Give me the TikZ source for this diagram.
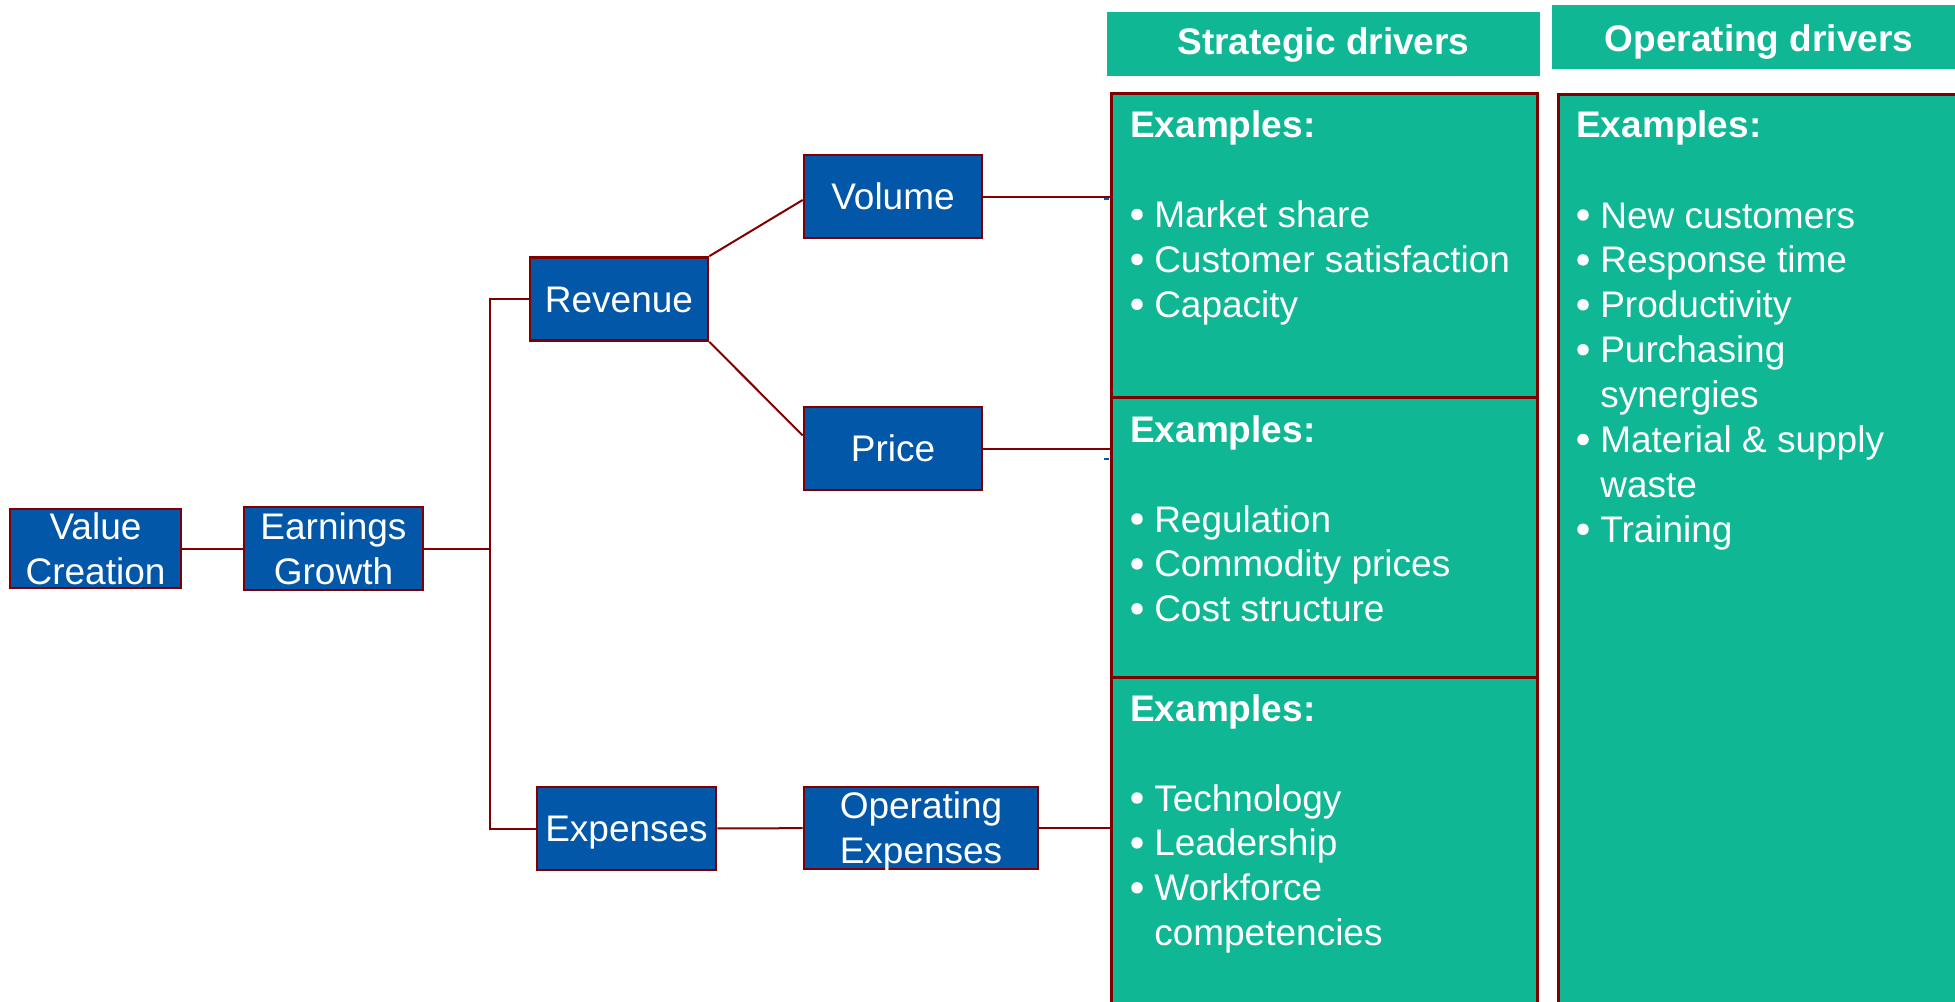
\documentclass[tikz,border=0pt]{standalone}
\usepackage{fontspec}
\setmainfont{Liberation Sans}
\usetikzlibrary{calc}

\definecolor{boxblue}{RGB}{2,87,168}
\definecolor{drvgreen}{RGB}{16,183,148}
\definecolor{linkred}{RGB}{128,0,0}

\newcommand{\txtsize}{\fontsize{27.75pt}{33.5pt}\selectfont}

\tikzset{
  lvl/.style={draw=linkred, line width=2pt, fill=boxblue, text=white,
    inner sep=0pt, align=center, font=\txtsize},
  oneline/.style={text height=19.9pt, text depth=0pt},
  link/.style={draw=linkred, line width=1.5pt},
  head/.style={fill=drvgreen, text=white, inner sep=0pt, font=\bfseries\txtsize},
  panel/.style={draw=linkred, line width=2pt, fill=drvgreen, inner sep=0pt,
    anchor=north west},
  item/.style={text=white, inner sep=0pt, anchor=base west, font=\txtsize,
    execute at begin node={\hspace*{18pt}}},
  itemhead/.style={text=white, inner sep=0pt, anchor=base west, font=\bfseries\txtsize},
  dot/.style={fill=white},
}

% list of lines: bullet flag / text; a bullet dot is drawn for flag 1
\newcommand{\droplist}[4]{% prefix, x, first baseline, list
  \foreach \b/\t [count=\i] in {#4} {
    \node[item] (#1\i) at (#2,{#3+44.9*(\i-1)}) {\t};
    \ifnum\b=1
      \fill[dot] ([xshift=5.25pt, yshift=9.75pt]#1\i.base west) circle (4.3pt);
    \fi
  }}

\begin{document}
\begin{tikzpicture}[x=0.75pt, y=-0.75pt]
\path[use as bounding box, clip] (0,0) rectangle (1955,1002);

% column headers
\node[head, minimum width=324.75pt, text height=32.25pt, text depth=15.75pt]
  (sh) at (1323.5,44) {Strategic drivers};
\node[head, minimum width=310.5pt, text height=35.25pt, text depth=12.75pt]
  (oh) at (1759,37) {Operating drivers};

% driver panels
\node[panel, minimum width=319.5pt, minimum height=228pt] (sb1) at (1110,92) {};
\node[panel, minimum width=319.5pt, minimum height=210pt] (sb2) at (1110,396) {};
\node[panel, minimum width=319.5pt, minimum height=252pt] (sb3) at (1110,676) {};
\node[panel, minimum width=310.5pt, minimum height=690pt] (ob) at (1557,93) {};

% panel texts
\node[itemhead] (sa0) at (1130,137.5) {Examples:};
\droplist{sa}{1130}{227.5}{1/Market share,1/Customer satisfaction,1/Capacity}

\node[itemhead] (sb0) at (1130,442) {Examples:};
\droplist{sbi}{1130}{532}{1/Regulation,1/Commodity prices,1/Cost structure}

\node[itemhead] (sc0) at (1130,721) {Examples:};
\droplist{sc}{1130}{811}{1/Technology,1/Leadership,1/Workforce,0/competencies}

\node[itemhead] (oa0) at (1576,138) {Examples:};
\droplist{oa}{1576}{228}{1/New customers,1/Response time,1/Productivity,
  1/Purchasing,0/synergies,1/Material \& supply,0/waste,1/Training}

% value tree
\node[lvl, minimum width=128.25pt, minimum height=59.25pt] (vc) at (95.5,548.5) {Value\\Creation};
\node[lvl, minimum width=134.25pt, minimum height=62.25pt] (eg) at (333.5,548.5) {Earnings\\Growth};
\node[lvl, oneline, minimum width=133.5pt, minimum height=62.25pt] (rev) at (619,299) {Revenue};
\node[lvl, oneline, minimum width=133.5pt, minimum height=62.25pt] (vol) at (893,196.5) {Volume};
\node[lvl, oneline, minimum width=133.5pt, minimum height=62.25pt] (pri) at (893,448.5) {Price};
\node[lvl, oneline, minimum width=134.25pt, minimum height=62.25pt] (exp) at (626.5,828.5) {Expenses};
\node[lvl, minimum width=175.5pt, minimum height=61.5pt] (opx) at (921,828) {Operating\\Ex\smash{p}enses};

% connectors
\coordinate (tt) at (490,299);
\coordinate (tb) at (490,828.5);
\draw[link] (vc) -- (eg);
\draw[link] (rev.west) -- (tt) -- (tb) -- (exp.west);
\draw[link] (eg.east) -- (eg.east -| tt);
\draw[link] (rev.north east) -- ($(vol.west)+(0,3.5)$);
\draw[link] (rev.south east) -- ($(pri.west)+(0,-13)$);
\draw[link] (vol.east) -- (vol.east -| sb1.west);
\draw[link] (pri.east) -- (pri.east -| sb2.west);
\draw[link] (exp) -- (opx);
\draw[link] (opx.east) -- (opx.east -| sb3.west);

% small blue ticks beside the panel edge
\draw[boxblue, line width=1.5pt] (1104,199) -- (1109,199);
\draw[boxblue, line width=1.5pt] (1104,459) -- (1109,459);
\end{tikzpicture}
\end{document}
